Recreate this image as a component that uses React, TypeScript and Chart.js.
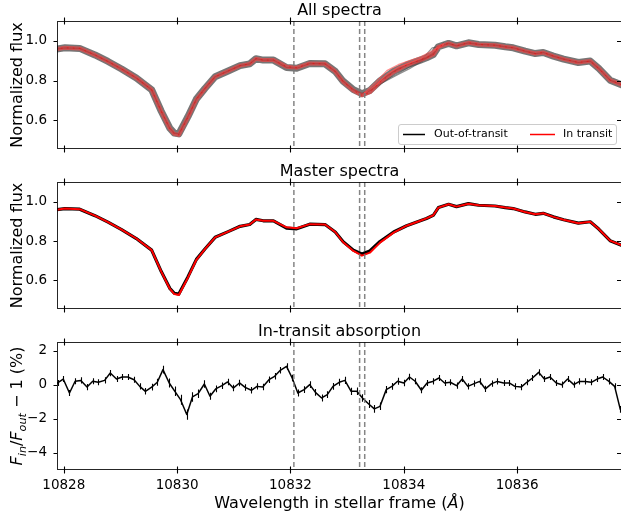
import { useEffect, useRef } from 'react';
import { Chart, registerables } from 'chart.js';
Chart.register(...registerables);

const FONT = "'DejaVu Sans', sans-serif";

// ---------- axes ----------
const X_MIN = 10827.88;
const X_MAX = 10837.85;
const xTicks = [10828, 10830, 10832, 10834, 10836];
const fluxTicks = [0.6, 0.8, 1.0];
const resTicks = [-4, -2, 0, 2];
const heLines = [10832.06, 10833.22, 10833.31];

// ---------- master spectra ----------
const masterWave = [10827.85, 10828.02, 10828.28, 10828.55, 10828.78, 10829.02, 10829.28, 10829.55, 10829.72, 10829.87, 10829.95, 10830.03, 10830.19, 10830.34, 10830.49, 10830.67, 10830.90, 10831.11, 10831.28, 10831.39, 10831.52, 10831.70, 10831.93, 10832.11, 10832.34, 10832.61, 10832.79, 10832.93, 10833.11, 10833.26, 10833.40, 10833.58, 10833.82, 10834.05, 10834.29, 10834.40, 10834.52, 10834.61, 10834.79, 10834.93, 10835.14, 10835.32, 10835.61, 10835.79, 10835.93, 10836.14, 10836.32, 10836.46, 10836.64, 10836.82, 10837.08, 10837.29, 10837.44, 10837.64, 10837.90];
const masterOut = [0.958, 0.965, 0.962, 0.929, 0.896, 0.858, 0.813, 0.754, 0.645, 0.560, 0.535, 0.531, 0.618, 0.707, 0.760, 0.819, 0.848, 0.875, 0.884, 0.910, 0.903, 0.903, 0.866, 0.862, 0.886, 0.884, 0.846, 0.796, 0.754, 0.734, 0.750, 0.798, 0.846, 0.878, 0.903, 0.915, 0.931, 0.970, 0.987, 0.975, 0.990, 0.982, 0.978, 0.970, 0.965, 0.948, 0.936, 0.941, 0.923, 0.908, 0.891, 0.898, 0.861, 0.802, 0.772];
const masterIn = [0.958, 0.965, 0.962, 0.929, 0.896, 0.858, 0.813, 0.754, 0.645, 0.558, 0.531, 0.526, 0.614, 0.705, 0.759, 0.819, 0.848, 0.875, 0.884, 0.910, 0.903, 0.903, 0.870, 0.865, 0.886, 0.884, 0.846, 0.794, 0.750, 0.726, 0.741, 0.792, 0.843, 0.878, 0.903, 0.915, 0.931, 0.970, 0.987, 0.975, 0.990, 0.982, 0.978, 0.970, 0.965, 0.948, 0.936, 0.941, 0.923, 0.908, 0.891, 0.898, 0.861, 0.802, 0.772];

// ---------- individual spectra that stray from the band (read near 10833.3–10834.7) ----------
const spreadWave = [10833.30, 10833.50, 10833.70, 10833.90, 10834.10, 10834.30, 10834.50, 10834.70];
const inStray1 = [0.738, 0.790, 0.850, 0.880, 0.900, 0.920, 0.950, 0.985];
const inStray2 = [0.735, 0.775, 0.832, 0.868, 0.888, 0.912, 0.942, 0.980];
const outStray1 = [0.735, 0.765, 0.805, 0.835, 0.868, 0.900, 0.965, 0.975];
const outStray2 = [0.740, 0.770, 0.800, 0.830, 0.860, 0.893, 0.935, 0.990];

// ---------- in-transit absorption ----------
const resWave = [10827.89, 10827.99, 10828.10, 10828.20, 10828.30, 10828.41, 10828.51, 10828.61, 10828.72, 10828.82, 10828.93, 10829.03, 10829.13, 10829.24, 10829.34, 10829.44, 10829.55, 10829.65, 10829.75, 10829.86, 10829.96, 10830.06, 10830.17, 10830.27, 10830.37, 10830.48, 10830.58, 10830.68, 10830.79, 10830.89, 10830.99, 10831.10, 10831.20, 10831.31, 10831.41, 10831.51, 10831.62, 10831.72, 10831.82, 10831.93, 10832.03, 10832.13, 10832.24, 10832.34, 10832.44, 10832.55, 10832.65, 10832.75, 10832.86, 10832.96, 10833.07, 10833.17, 10833.27, 10833.38, 10833.48, 10833.58, 10833.69, 10833.79, 10833.89, 10834.00, 10834.10, 10834.20, 10834.31, 10834.41, 10834.51, 10834.62, 10834.72, 10834.82, 10834.93, 10835.03, 10835.13, 10835.24, 10835.34, 10835.44, 10835.55, 10835.65, 10835.76, 10835.86, 10835.96, 10836.07, 10836.17, 10836.27, 10836.38, 10836.48, 10836.58, 10836.69, 10836.79, 10836.89, 10837.00, 10837.10, 10837.20, 10837.31, 10837.41, 10837.51, 10837.62, 10837.72, 10837.82];
const resVal = [0.1, 0.33, -0.49, 0.2, 0.25, -0.14, 0.2, 0.14, 0.25, 0.68, 0.33, 0.45, 0.45, 0.29, -0.1, -0.39, -0.14, 0.14, 0.88, 0.1, -0.39, -0.88, -1.75, -0.72, -0.53, 0.04, -0.68, -0.25, -0.06, 0.16, -0.2, 0.1, -0.16,
  -0.33, -0.1, -0.14, 0.29, 0.49, 0.84, 1.07, 0.39, -0.49, -0.29, 0, -0.45, -0.78, -0.58, -0.1, 0.14, 0.25, -0.39, -0.39, -0.78, -1.13, -1.42, -1.27, -0.29, -0.1, 0.2, 0.1, 0.45, 0.2, -0.33, 0.1,
  0.19, 0.39, 0.1, 0.14, -0.06, 0.33, -0.1, 0.06, 0.19, -0.25, 0.06, 0.19, 0.1, 0.1, -0.1, -0.14, 0.14, 0.39, 0.72, 0.33, 0.45, 0.1, 0, 0.33, 0, 0.19, 0.19, 0.14, 0.33, 0.45, 0.19, -0.1, -1.45];
const resErr = [0.18, 0.18, 0.18, 0.18, 0.18, 0.18, 0.18, 0.18, 0.18, 0.18, 0.18, 0.18, 0.18, 0.18, 0.19, 0.19, 0.2, 0.21, 0.23, 0.26, 0.28, 0.29, 0.3, 0.28, 0.25, 0.22, 0.2, 0.2, 0.19, 0.19, 0.19, 0.19, 0.19,
  0.19, 0.19, 0.19, 0.19, 0.19, 0.19, 0.19, 0.19, 0.2, 0.2, 0.2, 0.2, 0.2, 0.2, 0.2, 0.2, 0.21, 0.21, 0.22, 0.22, 0.23, 0.23, 0.22, 0.21, 0.2, 0.2, 0.19, 0.19, 0.18, 0.18, 0.18,
  0.18, 0.18, 0.18, 0.18, 0.18, 0.18, 0.18, 0.18, 0.18, 0.18, 0.18, 0.18, 0.18, 0.18, 0.18, 0.18, 0.18, 0.18, 0.18, 0.18, 0.18, 0.18, 0.18, 0.18, 0.18, 0.18, 0.18, 0.18, 0.18, 0.18, 0.18, 0.18, 0.2];

const pts = (xs: number[], ys: number[]) => xs.map((x, i) => ({ x, y: ys[i] }));
// first dataset in the list is drawn at the bottom
const layered = (ds: any[]) => ds.map((d, i) => ({ ...d, order: -i }));

type Part = { t: string; italic?: boolean; sub?: boolean };

function drawParts(ctx: CanvasRenderingContext2D, parts: Part[], size: number, cx: number, baseY: number) {
  const fontOf = (p: Part) => `${p.italic ? 'italic ' : ''}${p.sub ? size * 0.7 : size}px ${FONT}`;
  let total = 0;
  const widths = parts.map((p) => {
    ctx.font = fontOf(p);
    const w = ctx.measureText(p.t).width;
    total += w;
    return w;
  });
  let x = cx - total / 2;
  ctx.textBaseline = 'alphabetic';
  ctx.textAlign = 'left';
  parts.forEach((p, i) => {
    ctx.font = fontOf(p);
    ctx.fillText(p.t, x, baseY + (p.sub ? size * 0.22 : 0));
    x += widths[i];
  });
}

type Cfg = {
  title: string;
  yLabel: Part[];
  legend?: boolean;
  errors?: boolean;
  xTitle?: boolean;
};

function decor(cfg: Cfg) {
  return {
    id: 'decor',
    afterDatasetsDraw(chart: any) {
      const { ctx, chartArea: a, scales } = chart;
      const xs = scales.x;
      const ys = scales.y;
      ctx.save();
      ctx.beginPath();
      ctx.rect(a.left, a.top, a.right - a.left, a.bottom - a.top);
      ctx.clip();
      if (cfg.errors) {
        ctx.strokeStyle = '#000';
        ctx.lineWidth = 1.1;
        ctx.beginPath();
        resWave.forEach((w, i) => {
          const px = Math.round(xs.getPixelForValue(w)) + 0.5;
          ctx.moveTo(px, ys.getPixelForValue(resVal[i] - resErr[i]));
          ctx.lineTo(px, ys.getPixelForValue(resVal[i] + resErr[i]));
        });
        ctx.stroke();
      }
      ctx.strokeStyle = 'rgba(120,120,120,0.9)';
      ctx.lineWidth = 1.5;
      ctx.setLineDash([5, 3]);
      heLines.forEach((w) => {
        const px = xs.getPixelForValue(w);
        ctx.beginPath();
        ctx.moveTo(px, a.top);
        ctx.lineTo(px, a.bottom);
        ctx.stroke();
      });
      ctx.restore();
    },
    afterDraw(chart: any) {
      const { ctx, chartArea: a, scales } = chart;
      const xs = scales.x;
      const ys = scales.y;
      ctx.save();
      // spines
      ctx.strokeStyle = 'rgba(0,0,0,0.85)';
      ctx.lineWidth = 1;
      ctx.strokeRect(a.left + 0.5, a.top + 0.5, a.right - a.left - 1, a.bottom - a.top - 1);
      // ticks
      ctx.strokeStyle = '#000';
      ctx.lineWidth = 1.1;
      ctx.beginPath();
      xs.ticks.forEach((t: any) => {
        const px = Math.round(xs.getPixelForValue(t.value)) + 0.5;
        ctx.moveTo(px, a.top - 3.5);
        ctx.lineTo(px, a.top + 3.5);
        ctx.moveTo(px, a.bottom - 3.5);
        ctx.lineTo(px, a.bottom + 3.5);
      });
      ys.ticks.forEach((t: any) => {
        const py = Math.round(ys.getPixelForValue(t.value)) + 0.5;
        ctx.moveTo(a.left - 3.5, py);
        ctx.lineTo(a.left, py);
        ctx.moveTo(a.right - 5, py);
        ctx.lineTo(a.right, py);
      });
      ctx.stroke();
      // panel title
      ctx.fillStyle = '#000';
      drawParts(ctx, [{ t: cfg.title }], 16, (a.left + a.right) / 2, a.top - 6);
      // y label
      ctx.save();
      ctx.translate(22, (a.top + a.bottom) / 2);
      ctx.rotate(-Math.PI / 2);
      drawParts(ctx, cfg.yLabel, 16, 0, 0);
      ctx.restore();
      // x title
      if (cfg.xTitle) {
        drawParts(ctx, [{ t: 'Wavelength in stellar frame (' }, { t: 'Å', italic: true }, { t: ')' }], 16, (a.left + a.right) / 2, a.bottom + 38);
      }
      // legend
      if (cfg.legend) {
        const bw = 218;
        const bh = 20;
        const bx = a.right - 6 - bw;
        const by = a.bottom - 5 - bh;
        ctx.fillStyle = 'rgba(255,255,255,0.85)';
        ctx.strokeStyle = '#cccccc';
        ctx.lineWidth = 1;
        ctx.beginPath();
        (ctx as any).roundRect(bx + 0.5, by + 0.5, bw, bh, 2.5);
        ctx.fill();
        ctx.stroke();
        const cy = by + bh / 2 + 0.5;
        ctx.lineWidth = 1.5;
        ctx.strokeStyle = '#000';
        ctx.beginPath();
        ctx.moveTo(bx + 5, cy);
        ctx.lineTo(bx + 27, cy);
        ctx.stroke();
        ctx.strokeStyle = '#ff0000';
        ctx.beginPath();
        ctx.moveTo(bx + 132, cy);
        ctx.lineTo(bx + 157, cy);
        ctx.stroke();
        ctx.fillStyle = '#000';
        ctx.font = `11px ${FONT}`;
        ctx.textBaseline = 'middle';
        ctx.textAlign = 'left';
        ctx.fillText('Out-of-transit', bx + 36, cy);
        ctx.fillText('In transit', bx + 165, cy);
      }
      ctx.restore();
    },
  };
}

function makeOptions(yMin: number, yMax: number, yTicks: number[], yFmt: (v: number) => string, showX: boolean, padTop: number, xHeight: number) {
  return {
    responsive: false,
    maintainAspectRatio: false,
    animation: false,
    events: [],
    layout: { padding: { top: padTop, left: 0, right: 0, bottom: 0 } },
    plugins: { legend: { display: false }, tooltip: { enabled: false }, title: { display: false } },
    elements: { point: { radius: 0 }, line: { tension: 0, borderJoinStyle: 'round', borderCapStyle: 'round' } },
    scales: {
      x: {
        type: 'linear',
        min: X_MIN,
        max: X_MAX,
        grid: { display: false },
        border: { display: false },
        afterBuildTicks: (s: any) => {
          s.ticks = xTicks.map((value) => ({ value }));
        },
        afterFit: (s: any) => {
          s.height = xHeight;
        },
        ticks: {
          display: showX,
          autoSkip: false,
          maxRotation: 0,
          padding: -1,
          color: '#000',
          font: { family: FONT, size: 13.5 },
          callback: (v: number) => String(v),
        },
      },
      y: {
        type: 'linear',
        min: yMin,
        max: yMax,
        grid: { display: false },
        border: { display: false },
        afterBuildTicks: (s: any) => {
          s.ticks = yTicks.map((value) => ({ value }));
        },
        afterFit: (s: any) => {
          s.width = 57;
        },
        ticks: {
          autoSkip: false,
          padding: 2,
          color: '#000',
          font: { family: FONT, size: 13.5 },
          callback: (v: number) => yFmt(v),
        },
      },
    },
  };
}

const fluxFmt = (v: number) => v.toFixed(1);
const resFmt = (v: number) => (v < 0 ? '\u2212' + Math.abs(v) : String(v));

export default function App() {
  const c1 = useRef<HTMLCanvasElement>(null);
  const c2 = useRef<HTMLCanvasElement>(null);
  const c3 = useRef<HTMLCanvasElement>(null);

  useEffect(() => {
    const fluxLabel: Part[] = [{ t: 'Normalized flux' }];
    const charts: Chart[] = [];

    const straySet = (data: number[], color: string) => ({
      data: pts(spreadWave, data),
      borderColor: color,
      borderWidth: 1.2,
      clip: 0,
    });

    charts.push(
      new Chart(c1.current as HTMLCanvasElement, {
        type: 'line',
        data: {
          datasets: layered([
            { data: pts(masterWave, masterOut), borderColor: 'rgba(60,60,60,0.7)', borderWidth: 7, clip: 0 },
            straySet(outStray1, 'rgba(70,70,70,0.6)'),
            straySet(outStray2, 'rgba(70,70,70,0.6)'),
            { data: pts(masterWave, masterOut), borderColor: 'rgba(40,40,40,0.6)', borderWidth: 1.2, clip: 0 },
            { data: pts(masterWave, masterIn), borderColor: 'rgba(255,60,60,0.6)', borderWidth: 4, clip: 0 },
            straySet(inStray1, 'rgba(255,80,80,0.65)'),
            straySet(inStray2, 'rgba(255,80,80,0.65)'),
            { data: pts(masterWave, masterIn), borderColor: 'rgba(230,20,20,0.8)', borderWidth: 1, borderDash: [1, 5], clip: 0 },
          ]),
        },
        options: makeOptions(0.455, 1.1, fluxTicks, fluxFmt, false, 21, 11) as any,
        plugins: [decor({ title: 'All spectra', yLabel: fluxLabel, legend: true })],
      })
    );

    charts.push(
      new Chart(c2.current as HTMLCanvasElement, {
        type: 'line',
        data: {
          datasets: layered([
            { data: pts(masterWave, masterOut), borderColor: '#000000', borderWidth: 3.2, clip: 0 },
            { data: pts(masterWave, masterIn), borderColor: '#ff0000', borderWidth: 2, clip: 0 },
          ]),
        },
        options: makeOptions(0.455, 1.1, fluxTicks, fluxFmt, false, 22, 11) as any,
        plugins: [decor({ title: 'Master spectra', yLabel: fluxLabel })],
      })
    );

    charts.push(
      new Chart(c3.current as HTMLCanvasElement, {
        type: 'line',
        data: {
          datasets: [{ data: pts(resWave, resVal), borderColor: '#000000', borderWidth: 1.5, clip: 0 } as any],
        },
        options: makeOptions(-5, 2.5, resTicks, resFmt, true, 22, 49) as any,
        plugins: [
          decor({
            title: 'In-transit absorption',
            yLabel: [
              { t: 'F', italic: true },
              { t: 'in', italic: true, sub: true },
              { t: '/' },
              { t: 'F', italic: true },
              { t: 'out', italic: true, sub: true },
              { t: ' \u2212 1 (%)' },
            ],
            errors: true,
            xTitle: true,
          }),
        ],
      })
    );

    return () => charts.forEach((c) => c.destroy());
  }, []);

  const cv = (top: number, h: number): React.CSSProperties => ({ position: 'absolute', left: 0, top, width: 622, height: h });

  return (
    <div style={{ position: 'fixed', left: 0, top: 0, width: 621, height: 519, overflow: 'hidden', background: '#fff' }}>
      <canvas ref={c1} width={622} height={160} style={cv(0, 160)} />
      <canvas ref={c2} width={622} height={160} style={cv(160, 160)} />
      <canvas ref={c3} width={622} height={199} style={cv(320, 199)} />
    </div>
  );
}
